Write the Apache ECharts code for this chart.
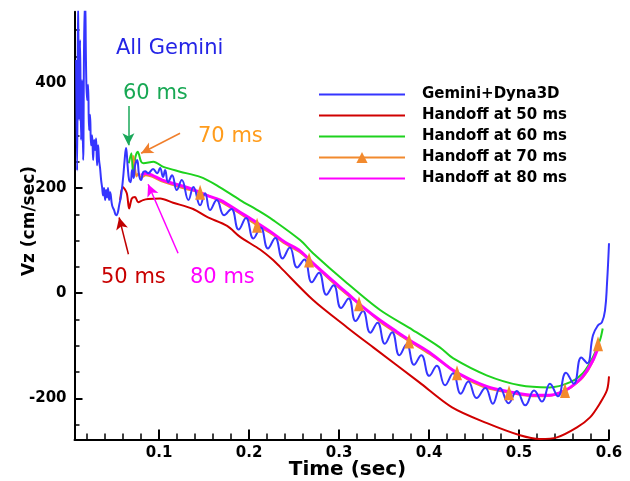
<!DOCTYPE html>
<html><head><meta charset="utf-8">
<script src="https://cdn.jsdelivr.net/npm/echarts@6/dist/echarts.min.js"></script>
<style>html,body{margin:0;padding:0;background:#fff}#c{width:630px;height:481px}</style>
</head><body><div id="c"></div>
<script>
// ---- data (time in s, Vz in cm/s) ----
const seriesNames = ['Gemini+Dyna3D','Handoff at 50 ms','Handoff at 60 ms','Handoff at 70 ms','Handoff at 80 ms'];
const xMajorTicks = [0.1,0.2,0.3,0.4,0.5,0.6];
const xMinorTicks = [0.02,0.04,0.06,0.08,0.12,0.14,0.16,0.18,0.22,0.24,0.26,0.28,0.32,0.34,0.36,0.38,0.42,0.44,0.46,0.48,0.52,0.54,0.56,0.58];
const yMajorTicks = [-200,0,200,400];
const yMinorTicks = [-250,-150,-100,-50,50,100,150,250,300,350,450,500];

const gemini = [[0.0078,443],[0.0089,233],[0.0100,560],[0.0111,329],[0.0122,481],[0.0133,291],[0.0144,405],[0.0156,253],[0.0167,481],[0.0178,560],[0.0189,424],[0.0200,367],[0.0211,396],[0.0222,310],[0.0233,339],[0.0244,281],[0.0256,300],[0.0267,253],[0.0278,291],[0.0289,272],[0.0300,294],[0.0311,243],[0.0322,281],[0.0333,253],[0.0344,238],[0.0356,215],[0.0367,201],[0.0378,186],[0.0389,200],[0.0400,177],[0.0411,196],[0.0422,182],[0.0433,200],[0.0444,177],[0.0456,192],[0.0478,167],[0.0500,158],[0.0522,148],[0.0539,152],[0.0556,167],[0.0578,186],[0.0600,219],[0.0617,253],[0.0633,276],[0.0650,243],[0.0667,215],[0.0683,211],[0.0700,234],[0.0717,219],[0.0733,243],[0.0756,253],[0.0778,224],[0.0800,215],[0.0822,230],[0.0844,232],[0.0878,228],[0.0933,236],[0.0978,228],[0.1011,238],[0.1044,221],[0.1067,234],[0.1100,211],[0.1144,224],[0.1197,196],[0.1252,215],[0.1326,177],[0.1381,202],[0.1456,167],[0.1511,190],[0.1567,158],[0.1641,177],[0.1722,148],[0.1803,160],[0.1884,121],[0.1966,143],[0.2048,104],[0.2129,125],[0.2210,85],[0.2291,105],[0.2372,66],[0.2453,87],[0.2534,49],[0.2616,64],[0.2697,21],[0.2778,39],[0.2859,-3],[0.2940,15],[0.3022,-28],[0.3107,-10],[0.3184,-53],[0.3266,-34],[0.3347,-75],[0.3428,-56],[0.3509,-96],[0.3590,-74],[0.3671,-118],[0.3752,-97],[0.3833,-136],[0.3914,-118],[0.4003,-157],[0.4086,-138],[0.4178,-175],[0.4267,-152],[0.4353,-191],[0.4437,-168],[0.4528,-199],[0.4626,-180],[0.4709,-210],[0.4789,-180],[0.4884,-209],[0.4975,-186],[0.5070,-213],[0.5167,-185],[0.5256,-206],[0.5344,-172],[0.5433,-196],[0.5522,-151],[0.5609,-172],[0.5692,-122],[0.5759,-133],[0.5822,-80],[0.5878,-61],[0.5922,-55],[0.5956,-32],[0.5978,19],[0.6000,95]];

const handoff50 = [[0.0567,177],[0.0597,202],[0.0641,190],[0.0667,161],[0.0697,180],[0.0733,183],[0.0767,173],[0.0822,177],[0.0878,179],[0.1011,180],[0.1156,172],[0.1378,160],[0.1533,145],[0.1756,128],[0.1900,107],[0.2122,83],[0.2267,63],[0.2344,50],[0.2711,-13],[0.3090,-65],[0.3380,-103],[0.3889,-169],[0.4256,-217],[0.4644,-247],[0.5011,-270],[0.5233,-277],[0.5422,-274],[0.5644,-255],[0.5789,-236],[0.5900,-209],[0.5978,-184],[0.6000,-158]];

const handoff60 = [[0.0663,247],[0.0692,266],[0.0711,228],[0.0737,259],[0.0763,269],[0.0800,250],[0.0826,247],[0.0937,250],[0.1048,240],[0.1233,231],[0.1456,221],[0.1641,205],[0.1900,177],[0.2122,155],[0.2267,139],[0.2567,101],[0.2711,76],[0.3090,19],[0.3456,-32],[0.3820,-70],[0.4120,-103],[0.4270,-124],[0.4640,-156],[0.5010,-175],[0.5340,-179],[0.5570,-169],[0.5710,-152],[0.5820,-122],[0.5900,-89],[0.5930,-67]];

const handoff70 = [[0.0711,262],[0.0730,240],[0.0750,222],[0.0770,228],[0.0800,219],[0.0852,224],[0.0926,221],[0.1037,212],[0.1148,206],[0.1344,196],[0.1456,192],[0.1680,174],[0.1900,151],[0.2089,129],[0.2230,115],[0.2400,94],[0.2570,77],[0.2667,63],[0.2900,25],[0.3090,-3],[0.3222,-20],[0.3460,-55],[0.3640,-76],[0.3778,-91],[0.4010,-116],[0.4311,-151],[0.4460,-167],[0.4640,-180],[0.4889,-189],[0.5010,-193],[0.5180,-196],[0.5340,-195],[0.5511,-185],[0.5570,-180],[0.5710,-160],[0.5820,-130],[0.5878,-96]];
const handoff70MarkerIdx = [10,13,17,20,23,25,28,32,36];

const handoff80 = [[0.0800,224],[0.0852,228],[0.0926,224],[0.1037,215],[0.1148,209],[0.1344,199],[0.1530,186],[0.1680,177],[0.1900,154],[0.2040,139],[0.2230,118],[0.2400,97],[0.2570,80],[0.2710,57],[0.2900,28],[0.3090,0],[0.3270,-27],[0.3460,-52],[0.3640,-73],[0.3820,-93],[0.4010,-113],[0.4270,-147],[0.4460,-164],[0.4640,-177],[0.4820,-185],[0.5010,-191],[0.5180,-194],[0.5340,-194],[0.5460,-189],[0.5570,-179],[0.5710,-158],[0.5820,-128],[0.5880,-103]];

// annotation arrows (data coordinates: tail -> head)
const arrow60 = [[0.0659,356],[0.0659,281]];
const arrow70 = [[0.1233,304],[0.0800,266]];
const arrow50 = [[0.0659,74],[0.0556,144]];
const arrow80 = [[0.1211,76],[0.0878,207]];

// ---- chart ----
const FONT = 'DejaVu Sans';
const C = {blue:'#3535ff', red:'#d00000', green:'#1ed21e', orange:'#f28a2e', magenta:'#ff00ff'};
const chart = echarts.init(document.getElementById('c'), null, {renderer:'canvas'});

function arrow(a, color){
  return {silent:true, symbol:['none','arrow'], symbolSize:11, label:{show:false},
    lineStyle:{color:color, width:1.5, type:'solid', opacity:1}, itemStyle:{color:color},
    emphasis:{disabled:true}, animation:false,
    data:[[{coord:a[0], symbol:'none'},{coord:a[1], symbol:'arrow', symbolSize:[9,12], itemStyle:{color:color}}]]};
}
function lineSeries(name, data, color, width, extra){
  return Object.assign({type:'line', name:name, data:data, symbol:'none', showSymbol:false,
    smooth:0.3, animation:false, clip:true,
    lineStyle:{color:color, width:width}, itemStyle:{color:color}, emphasis:{disabled:true}}, extra||{});
}

const yMin=-278, yMax=535, xMin=0.006, xMax=0.6;
const axisLine = {show:true, onZero:false, lineStyle:{color:'#000', width:2}};
const labelFont = {fontFamily:FONT, fontWeight:'bold', fontSize:15, color:'#000'};
const hideSym = {itemStyle:{opacity:0}};

const option = {
  backgroundColor:'#fff',
  animation:false,
  grid:{left:74.5, right:21, top:11.7, bottom:41.5, containLabel:false},
  xAxis:[
    {type:'value', min:xMin, max:xMax, position:'bottom', axisLine:axisLine, splitLine:{show:false},
     axisTick:{show:true, inside:true, length:10, lineStyle:{color:'#000', width:2}, customValues:xMajorTicks},
     axisLabel:Object.assign({show:true, margin:6, customValues:xMajorTicks, formatter:v=>v.toFixed(1)}, labelFont)},
    {type:'value', min:xMin, max:xMax, position:'bottom', axisLine:{show:false, onZero:false}, splitLine:{show:false},
     axisTick:{show:true, inside:true, length:6, lineStyle:{color:'#000', width:1.5}, customValues:xMinorTicks},
     axisLabel:{show:false}}
  ],
  yAxis:[
    {type:'value', min:yMin, max:yMax, position:'left', axisLine:axisLine, splitLine:{show:false},
     axisTick:{show:true, inside:true, length:8, lineStyle:{color:'#000', width:2}, customValues:yMajorTicks},
     axisLabel:Object.assign({show:true, margin:8, customValues:yMajorTicks}, labelFont)},
    {type:'value', min:yMin, max:yMax, position:'left', axisLine:{show:false, onZero:false}, splitLine:{show:false},
     axisTick:{show:true, inside:true, length:5, lineStyle:{color:'#000', width:1.5}, customValues:yMinorTicks},
     axisLabel:{show:false}}
  ],
  legend:{
    data:[
      Object.assign({name:seriesNames[0]}, hideSym),
      Object.assign({name:seriesNames[1]}, hideSym),
      Object.assign({name:seriesNames[2]}, hideSym),
      {name:seriesNames[3]},
      Object.assign({name:seriesNames[4]}, hideSym)
    ],
    orient:'vertical', left:318, top:87, padding:0, itemWidth:86, itemHeight:14, itemGap:6,
    selectedMode:false,
    textStyle:{fontFamily:FONT, fontWeight:'bold', fontSize:15, color:'#000', lineHeight:14, padding:[0,0,0,12]}
  },
  series:[
    lineSeries(seriesNames[1], handoff50, C.red, 2, {z:2, markLine:arrow(arrow50,'#c00000')}),
    lineSeries(seriesNames[2], handoff60, C.green, 2, {z:2, markLine:arrow(arrow60,'#1aa85a')}),
    lineSeries(seriesNames[3], handoff70, C.orange, 2, {z:3, symbol:'triangle', symbolSize:[10,15], showSymbol:false, markLine:arrow(arrow70,'#f07f2c')}),
    lineSeries(seriesNames[4], handoff80, C.magenta, 3, {z:4, markLine:arrow(arrow80,'#ff00ff')}),
    lineSeries(seriesNames[0], gemini, C.blue, 2, {z:5, smooth:0.45}),
    {type:'scatter', name:'h70markers', z:6, animation:false, silent:true,
     symbol:'triangle', symbolSize:[10,15], itemStyle:{color:C.orange, opacity:1},
     data:handoff70MarkerIdx.map(i=>handoff70[i])}
  ],
  graphic:[
    {type:'text', x:116, y:49, style:{text:'All Gemini', fill:'#2424e6', font:'21px "DejaVu Sans"', textAlign:'left', textVerticalAlign:'middle'}},
    {type:'text', x:123, y:93.5, style:{text:'60 ms', fill:'#18a854', font:'21px "DejaVu Sans"', textAlign:'left', textVerticalAlign:'middle'}},
    {type:'text', x:198, y:137, style:{text:'70 ms', fill:'#ff9c1c', font:'21px "DejaVu Sans"', textAlign:'left', textVerticalAlign:'middle'}},
    {type:'text', x:101, y:278, style:{text:'50 ms', fill:'#c80000', font:'21px "DejaVu Sans"', textAlign:'left', textVerticalAlign:'middle'}},
    {type:'text', x:190, y:278, style:{text:'80 ms', fill:'#ff00ff', font:'21px "DejaVu Sans"', textAlign:'left', textVerticalAlign:'middle'}},
    {type:'text', x:347.5, y:470, style:{text:'Time (sec)', fill:'#000', font:'bold 20px "DejaVu Sans"', textAlign:'center', textVerticalAlign:'middle'}},
    {type:'text', x:30, y:221, rotation:Math.PI/2, style:{text:'Vz (cm/sec)', fill:'#000', font:'bold 17px "DejaVu Sans"', textAlign:'center', textVerticalAlign:'middle'}}
  ]
};
chart.setOption(option);
</script>
</body></html>
